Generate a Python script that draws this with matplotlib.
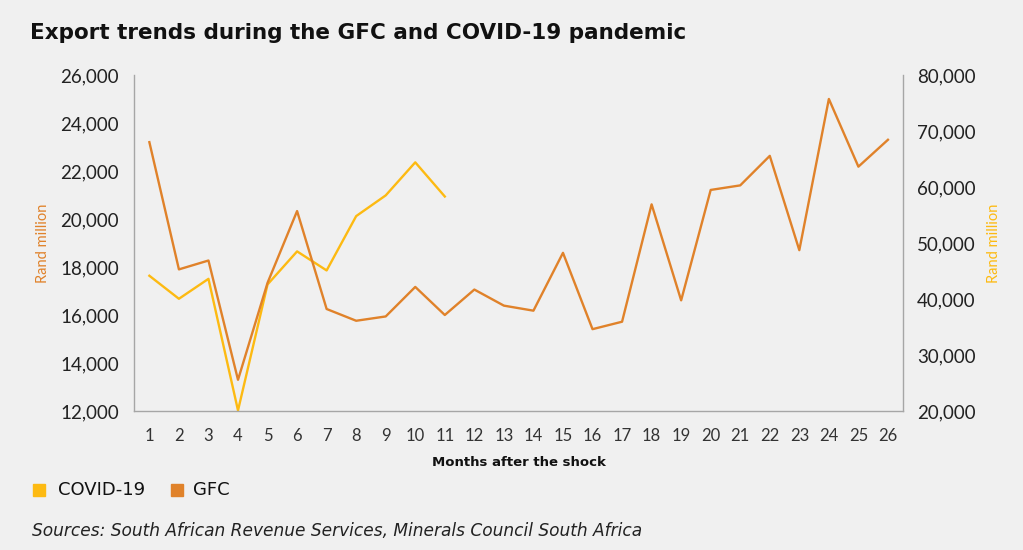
import matplotlib.pyplot as plt
from matplotlib.ticker import FuncFormatter
from matplotlib.patches import Rectangle

months = list(range(1, 27))
gfc = [23200, 17900, 18270, 13300, 17340, 20330, 16250, 15760, 15940, 17170,
       16000, 17060, 16390, 16180, 18590, 15410, 15720, 20610, 16610, 21210,
       21400, 22630, 18700, 25000, 22180, 23300]
covid_months = list(range(1, 12))
covid = [44150, 40040, 43600, 20100, 42600, 48500, 45100, 54800, 58500, 64400, 58300]

orange = '#E0822A'
yellow = '#FDBA12'
bg = '#F0F0F0'
spine_c = '#A6A6A6'
fnt = 'Lato'
wide = 'DejaVu Sans'

fig = plt.figure(figsize=(10.23, 5.5), dpi=100, facecolor=bg)
ax = fig.add_axes([0.131, 0.2527, 0.752, 0.611], facecolor=bg)
ax2 = ax.twinx()

ax.plot(months, gfc, color=orange, linewidth=1.7, zorder=3)
ax2.plot(covid_months, covid, color=yellow, linewidth=1.7, zorder=2)
ax.set_zorder(ax2.get_zorder() + 1)
ax.patch.set_visible(False)
ax2.patch.set_visible(True)
ax2.patch.set_facecolor(bg)

ax.set_xlim(0.48, 26.52)
ax.set_ylim(12000, 26000)
ax2.set_ylim(20000, 80000)
ax.set_yticks(range(12000, 26001, 2000))
ax2.set_yticks(range(20000, 80001, 10000))
ax.set_xticks(months)

fmt = FuncFormatter(lambda v, p: f'{int(v):,}')
ax.yaxis.set_major_formatter(fmt)
ax2.yaxis.set_major_formatter(fmt)

for a in (ax, ax2):
    a.spines['top'].set_visible(False)
    for s in a.spines.values():
        s.set_color(spine_c)
        s.set_linewidth(1.0)
ax.spines['right'].set_visible(False)
ax2.spines['left'].set_visible(False)
ax2.spines['bottom'].set_visible(False)

ax.tick_params(axis='y', length=0, pad=11, labelsize=13.5, labelcolor='#222222')
ax2.tick_params(axis='y', length=0, pad=10, labelsize=13.5, labelcolor='#222222')
ax.tick_params(axis='x', length=0, pad=12, labelsize=12, labelcolor='#333333')
for lab in ax.get_yticklabels() + ax2.get_yticklabels() + ax.get_xticklabels():
    lab.set_family(fnt)

ax.set_xlabel('Months after the shock', fontsize=9.5, fontweight='bold',
              family=wide, labelpad=9, color='#111111')
ax.set_ylabel('Rand million', fontsize=10.5, color=orange, family=fnt, labelpad=7)
ax2.set_ylabel('Rand million', fontsize=10.5, color=yellow, family=fnt, labelpad=8)

fig.text(0.029, 0.94, 'Export trends during the GFC and COVID-19 pandemic',
         fontsize=15.5, fontweight='bold', family=wide, color='#111111', va='center')

# legend drawn by hand
fig.patches.append(Rectangle((33 / 1023, 1 - 496 / 550), 12 / 1023, 12 / 550,
                             transform=fig.transFigure, color=yellow))
fig.text(58 / 1023, 1 - 490 / 550, 'COVID-19', fontsize=13, family=wide,
         va='center', color='#111111')
fig.patches.append(Rectangle((171 / 1023, 1 - 496 / 550), 12 / 1023, 12 / 550,
                             transform=fig.transFigure, color=orange))
fig.text(193 / 1023, 1 - 490 / 550, 'GFC', fontsize=13, family=wide,
         va='center', color='#111111')

fig.text(32 / 1023, 1 - 531 / 550,
         'Sources: South African Revenue Services, Minerals Council South Africa',
         fontsize=12.25, style='italic', family=wide, va='center', color='#222222')

fig.savefig('out.png', dpi=100, facecolor=bg)
